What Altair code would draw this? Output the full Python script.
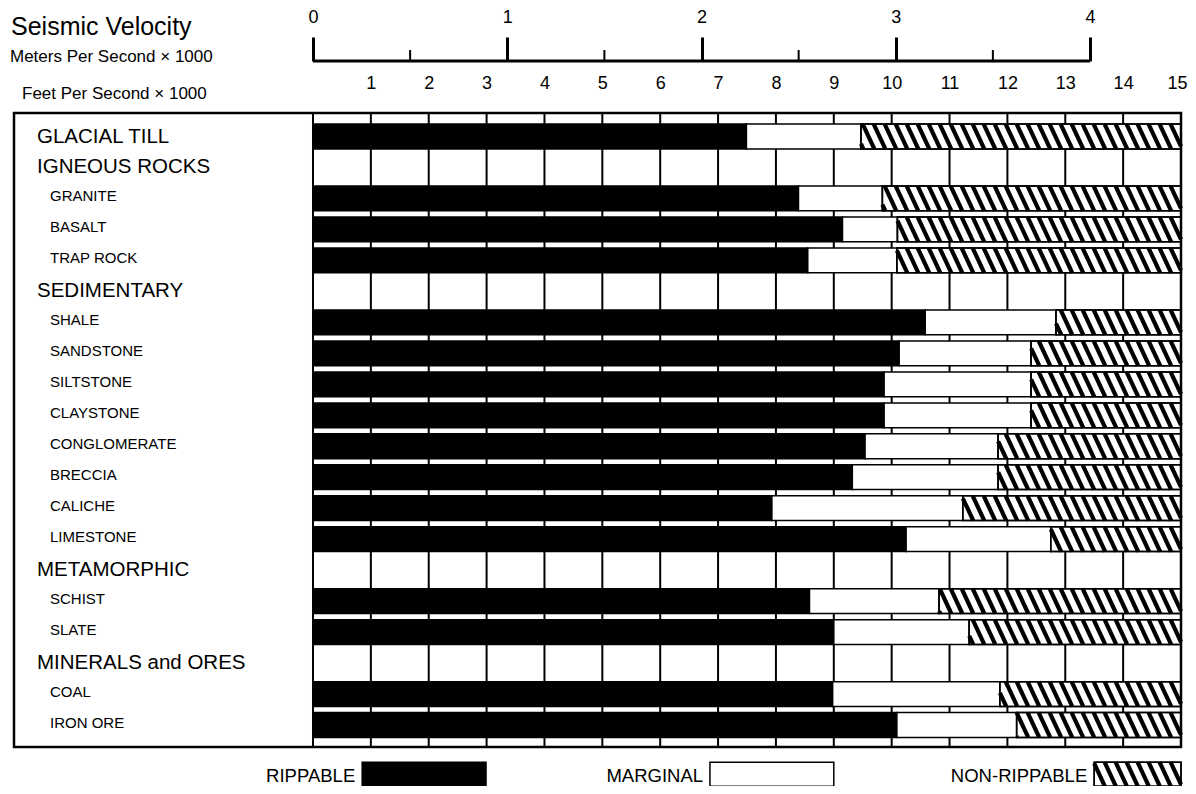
import math
import altair as alt
import pandas as pd

# ---------------- data ----------------
row_labels = [
    "GLACIAL TILL", "IGNEOUS ROCKS", "GRANITE", "BASALT", "TRAP ROCK",
    "SEDIMENTARY", "SHALE", "SANDSTONE", "SILTSTONE", "CLAYSTONE",
    "CONGLOMERATE", "BRECCIA", "CALICHE", "LIMESTONE", "METAMORPHIC",
    "SCHIST", "SLATE", "MINERALS and ORES", "COAL", "IRON ORE",
]
row_is_group = [
    True, True, False, False, False,
    True, False, False, False, False,
    False, False, False, False, True,
    False, False, True, False, False,
]
# end of rippable range (feet per second x 1000); None = heading row without bar
rippable_end = [7.49, None, 8.39, 9.15, 8.55, None, 10.58, 10.13, 9.87, 9.87,
                9.54, 9.32, 7.93, 10.25, None, 8.58, 9.00, None, 8.98, 10.09]
# end of marginal range
marginal_end = [9.47, None, 9.84, 10.10, 10.09, None, 12.84, 12.41, 12.41, 12.41,
                11.84, 11.84, 11.23, 12.75, None, 10.82, 11.34, None, 11.87, 12.16]
feet_max = 15
feet_ticks = list(range(1, 16))
grid_values = list(range(0, 15))
meter_ticks = [0, 1, 2, 3, 4]
meter_half_ticks = [0.5, 1.5, 2.5, 3.5]
title_text = "Seismic Velocity"
meters_text = "Meters Per Second \u00d7 1000"
feet_text = "Feet Per Second \u00d7 1000"
legend_kinds = ["rippable", "marginal", "non"]
legend_labels = ["RIPPABLE", "MARGINAL", "NON-RIPPABLE"]

# ---------------- layout / style ----------------
FONT = "Liberation Sans"
W, H = 1167, 634
PAD = {"left": 6, "top": 105, "right": 7, "bottom": 39}
X_DOMAIN = [-5.167, 15]
Y_DOMAIN = [-0.759, 19.71]
M_DOMAIN = [-1.5393, 4.4684]
HALF = 0.4
HATCH_PERIOD = 0.19
HATCH_SLANT = 0.2
LEGEND_BOXES = [(0.85, 2.99), (6.86, 9.0), (13.5, 15.0)]
LEGEND_Y = (20.2, 20.98)
LEGEND_TEXT_Y = 20.66


def xs():
    return alt.Scale(domain=X_DOMAIN, nice=False, zero=False)


def ys():
    return alt.Scale(domain=Y_DOMAIN, nice=False, zero=False, reverse=True)


def ms():
    return alt.Scale(domain=M_DOMAIN, nice=False, zero=False)


def hatch(x0, x1, yt, yb, slant):
    out = []
    k0 = math.floor((x0 - slant) / HATCH_PERIOD) - 1
    k1 = math.ceil(x1 / HATCH_PERIOD) + 1
    for k in range(k0, k1 + 1):
        s = k * HATCH_PERIOD
        t0 = max(0.0, (x0 - s) / slant)
        t1 = min(1.0, (x1 - s) / slant)
        if t1 <= t0:
            continue
        out.append({"x": s + t0 * slant, "y": yt + t0 * (yb - yt),
                    "x2": s + t1 * slant, "y2": yt + t1 * (yb - yt)})
    return out


# ---------------- tables ----------------
bars = []
hatch_rows = []
for i, (a, b) in enumerate(zip(rippable_end, marginal_end)):
    if a is None:
        continue
    yt, yb = i - HALF, i + HALF
    bars.append({"kind": "rippable", "x0": 0, "x1": a, "yt": yt, "yb": yb})
    bars.append({"kind": "marginal", "x0": a, "x1": b, "yt": yt, "yb": yb})
    bars.append({"kind": "non", "x0": b, "x1": feet_max, "yt": yt, "yb": yb})
    hatch_rows += hatch(b, feet_max, yt, yb, HATCH_SLANT)

legend_rows = []
for kind, lab, (lx0, lx1) in zip(legend_kinds, legend_labels, LEGEND_BOXES):
    legend_rows.append({"kind": kind, "label": lab, "x0": lx0, "x1": lx1,
                        "yt": LEGEND_Y[0], "yb": LEGEND_Y[1], "ty": LEGEND_TEXT_Y,
                        "tx": lx0 - 0.12})
    if kind == "non":
        sl = HATCH_SLANT * (LEGEND_Y[1] - LEGEND_Y[0]) / (2 * HALF)
        hatch_rows += hatch(lx0, lx1, LEGEND_Y[0], LEGEND_Y[1], sl)

df_bars = pd.DataFrame(bars + legend_rows)
df_hatch = pd.DataFrame(hatch_rows)
df_legend = pd.DataFrame(legend_rows)
df_rows = pd.DataFrame({"row": list(range(len(row_labels))), "label": row_labels,
                        "group": row_is_group})
df_grid = pd.DataFrame({"g": grid_values})
df_mline = pd.DataFrame({"m0": [meter_ticks[0]], "m1": [meter_ticks[-1]]})
df_mhalf = pd.DataFrame({"m": meter_half_ticks})

fill_scale = alt.Scale(domain=legend_kinds, range=["black", "white", "white"])

# ---------------- layers ----------------
grid = alt.Chart(df_grid).mark_rule(color="black", strokeWidth=2).encode(
    x=alt.X("g:Q", scale=xs(), axis=alt.Axis(
        orient="top", values=feet_ticks, ticks=False, tickSize=0, domain=False,
        grid=False, title=None, labelFont=FONT, labelFontSize=18,
        labelColor="black", labelPadding=30, labelBaseline="middle",
        labelFlush=True, labelFlushOffset=6, labelOverlap=False)),
    y=alt.value(0), y2=alt.value(H),
)

bar_layer = alt.Chart(df_bars).mark_rect(stroke="black", strokeWidth=1.5).encode(
    x=alt.X("x0:Q", scale=xs(), axis=None), x2="x1:Q",
    y=alt.Y("yt:Q", scale=ys(), axis=None), y2="yb:Q",
    fill=alt.Fill("kind:N", scale=fill_scale, legend=None),
)

hatch_layer = alt.Chart(df_hatch).mark_rule(color="black", strokeWidth=4.2).encode(
    x=alt.X("x:Q", scale=xs(), axis=None), x2="x2:Q",
    y=alt.Y("y:Q", scale=ys(), axis=None), y2="y2:Q",
)

outline = alt.Chart(df_bars).mark_rect(filled=False, stroke="black", strokeWidth=1.5).encode(
    x=alt.X("x0:Q", scale=xs(), axis=None), x2="x1:Q",
    y=alt.Y("yt:Q", scale=ys(), axis=None), y2="yb:Q",
).transform_filter(alt.datum.kind == "non")

group_labels = alt.Chart(df_rows).mark_text(
    align="left", baseline="middle", font=FONT, fontSize=20.5, color="black"
).encode(
    x=alt.value(23), y=alt.Y("row:Q", scale=ys(), axis=None), text="label:N"
).transform_filter(alt.datum.group == True)

sub_labels = alt.Chart(df_rows).mark_text(
    align="left", baseline="middle", font=FONT, fontSize=15, color="black", dy=-2
).encode(
    x=alt.value(36), y=alt.Y("row:Q", scale=ys(), axis=None), text="label:N"
).transform_filter(alt.datum.group == False)

legend_text = alt.Chart(df_legend).mark_text(
    align="right", baseline="middle", font=FONT, fontSize=18.5, color="black"
).encode(
    x=alt.X("tx:Q", scale=xs(), axis=None),
    y=alt.Y("ty:Q", scale=ys(), axis=None), text="label:N"
)

box = alt.Chart(pd.DataFrame({"a": [0]})).mark_rect(
    filled=False, stroke="black", strokeWidth=2.5
).encode(x=alt.value(0), x2=alt.value(W), y=alt.value(0), y2=alt.value(H))

meter_line = alt.Chart(df_mline).mark_rule(color="black", strokeWidth=3).encode(
    x=alt.X("m0:Q", scale=ms(), axis=alt.Axis(
        orient="top", offset=52, values=meter_ticks, domain=False, grid=False,
        tickSize=24, tickWidth=3, tickColor="black", title=None,
        labelFont=FONT, labelFontSize=18, labelColor="black", labelPadding=20,
        labelBaseline="middle", labelFlush=False, labelOverlap=False)),
    x2="m1:Q", y=alt.value(-52),
)

meter_half = alt.Chart(df_mhalf).mark_rule(color="black", strokeWidth=2).encode(
    x=alt.X("m:Q", scale=ms(), axis=None), y=alt.value(-63), y2=alt.value(-52),
)


def head_text(t, size, x, y):
    return alt.Chart(pd.DataFrame({"t": [t]})).mark_text(
        align="left", baseline="middle", font=FONT, fontSize=size, color="black"
    ).encode(x=alt.value(x), y=alt.value(y), text="t:N")


chart = alt.layer(
    grid, bar_layer, hatch_layer, outline, group_labels, sub_labels,
    legend_text, box, meter_line, meter_half,
    head_text(title_text, 25, -3, -86),
    head_text(meters_text, 17, -4, -56),
    head_text(feet_text, 17, 8, -19),
).resolve_scale(x="independent").properties(
    width=W, height=H, padding=PAD,
    autosize=alt.AutoSizeParams(type="none"),
).configure_view(stroke=None)

chart.save("out.html", embed_options={"renderer": "svg", "actions": False})
